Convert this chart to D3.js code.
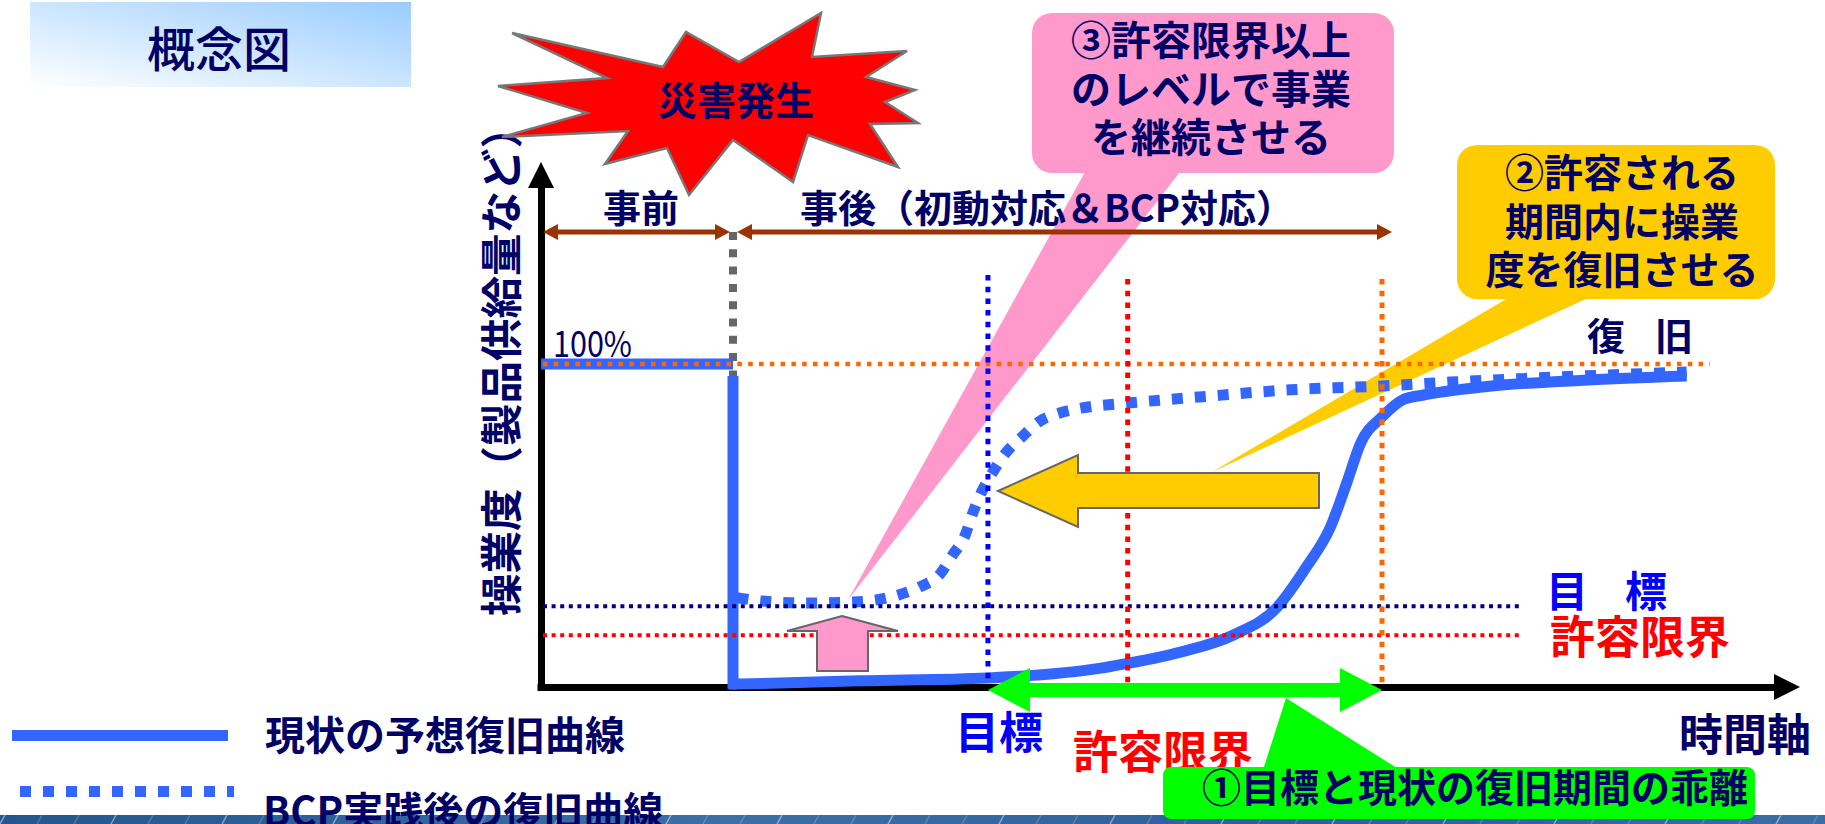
<!DOCTYPE html>
<html><head><meta charset="utf-8">
<script src="https://cdn.jsdelivr.net/npm/d3@7"></script>
<style>
body{margin:0;background:#fff;}
svg{display:block;}
text{font-family:"Noto Sans CJK JP","Noto Sans",sans-serif;}
</style></head><body>
<svg id="c" width="1825" height="824"></svg>
<script>
// ---------------- data ----------------
const timeDomain = [0, 100];          // arbitrary time units along the time axis
const levelDomain = [0, 100];         // operation level in %
const eventNames = ["災害発生", "目標", "許容限界", "復旧"];
const eventTimes = [15.25, 35.5, 46.6, 66.8];
const levelNames = ["100%", "目標", "許容限界"];
const levelValues = [100, 25, 16];
const preTimes = [0, 15.25];
const preValues = [100, 100];
const dropValues = [96.3, 1.0];
const currentTimes  = [15.8, 25.3, 35.5, 44.6, 46.6, 50.8, 55.0, 58.5, 60.8, 62.7, 64.0, 65.1, 66.8, 68.5, 70.1, 74.8, 82.8, 91.0];
const currentValues = [0.9, 1.9, 2.8, 5.9, 7.3, 10.8, 16.1, 24.8, 37.2, 49.5, 63.2, 75.5, 83.6, 89.0, 90.4, 92.9, 95.0, 96.3];
const bcpTimes  = [15.6, 17.6, 21.1, 24.8, 28.4, 30.1, 31.7, 32.7, 33.7, 34.3, 35.0, 35.9, 36.9, 38.2, 39.5, 41.2, 43.0, 46.6, 52.3, 59.5, 66.8, 72.2, 80.9, 91.0];
const bcpValues = [27.6, 26.6, 26.0, 26.3, 28.5, 31.0, 35.0, 40.9, 47.1, 53.9, 60.4, 66.6, 72.4, 77.4, 82.0, 84.8, 86.4, 87.9, 89.8, 92.0, 93.2, 94.4, 96.0, 97.5];
const seriesNames = ["現状の予想復旧曲線", "BCP実践後の復旧曲線"];

// ---------------- styles ----------------
const NAVY = "#000066", CURVE = "#3366FF", ORANGE = "#FF6600", RED = "#FF0000",
      BLUE = "#0000FF", LNAVY = "#000080", BROWN = "#993300", PINK = "#FF99CC",
      YELLOW = "#FFCC00", GREEN = "#00FF00", GRAY = "#666666";

const svg = d3.select("#c");
const x = d3.scaleLinear().domain(timeDomain).range([541, 1800]);
const y = d3.scaleLinear().domain(levelDomain).range([687, 364]);

const defs = svg.append("defs");
const tg = defs.append("linearGradient").attr("id", "tg").attr("x1", 0).attr("y1", 1).attr("x2", 1).attr("y2", 0);
tg.append("stop").attr("offset", 0).attr("stop-color", "#ffffff");
tg.append("stop").attr("offset", 1).attr("stop-color", "#99ccff");
const bg = defs.append("linearGradient").attr("id", "bg").attr("x1", 0).attr("y1", 0).attr("x2", 1).attr("y2", 0);
[["0", "#23558f"], ["0.4", "#3c6fa8"], ["0.7", "#2d5f9b"], ["1", "#3a6ca6"]].forEach(s =>
  bg.append("stop").attr("offset", s[0]).attr("stop-color", s[1]));

// title box
svg.append("rect").attr("x", 30).attr("y", 2).attr("width", 381).attr("height", 85).attr("fill", "url(#tg)");
svg.append("text").attr("x", 219).attr("y", 67).attr("text-anchor", "middle")
  .attr("font-size", 48).attr("font-weight", 500).attr("fill", NAVY).text("概念図");

// bottom banner
svg.append("rect").attr("x", 0).attr("y", 815).attr("width", 1825).attr("height", 9).attr("fill", "url(#bg)");
d3.range(0, 1825, 37).forEach((bx, i) => {
  svg.append("line").attr("x1", bx).attr("y1", 824).attr("x2", bx + 5).attr("y2", 815)
    .attr("stroke", "#ffffff").attr("stroke-opacity", i % 3 === 0 ? 0.45 : 0.2).attr("stroke-width", 1.5);
});

// callout wedges (behind lines)
const poly = pts => "M" + pts.map(p => p.join(",")).join("L") + "Z";
svg.append("path").attr("d", poly([[848, 600], [1085, 172], [1180, 172]])).attr("fill", PINK);
svg.append("path").attr("d", poly([[1212, 472], [1508, 298], [1588, 298]])).attr("fill", YELLOW);

// axes (d3 axes, no ticks) + arrow heads
const xAxisScale = x.copy().range([537, 1776]);
const yAxisScale = y.copy().range([690, 185]);
const gx = svg.append("g").attr("transform", `translate(0,${y(0)})`)
  .call(d3.axisBottom(xAxisScale).tickValues([]).tickSizeOuter(0));
const gy = svg.append("g").attr("transform", `translate(${x(0)},0)`)
  .call(d3.axisLeft(yAxisScale).tickValues([]).tickSizeOuter(0));
[gx, gy].forEach(g => g.select(".domain").attr("stroke", "#000").attr("stroke-width", 7));
svg.append("path").attr("d", poly([[1800, y(0)], [1774, y(0) - 13], [1774, y(0) + 13]])).attr("fill", "#000");
svg.append("path").attr("d", poly([[x(0), 162], [x(0) - 13, 188], [x(0) + 13, 188]])).attr("fill", "#000");

// curves
const line = d3.line().x(d => x(d[0])).y(d => y(d[1]));
const smooth = d3.line().curve(d3.curveMonotoneX).x(d => x(d[0])).y(d => y(d[1]));

svg.append("path").attr("d", smooth(d3.zip(bcpTimes, bcpValues)))
  .attr("fill", "none").attr("stroke", CURVE).attr("stroke-width", 11).attr("stroke-dasharray", "11,12");

// gray disaster marker (under the solid drop)
svg.append("line").attr("x1", x(eventTimes[0])).attr("x2", x(eventTimes[0])).attr("y1", 232).attr("y2", 697)
  .attr("stroke", GRAY).attr("stroke-width", 8).attr("stroke-dasharray", "8,9.3");

svg.append("path").attr("d", line(d3.zip(preTimes, preValues)))
  .attr("fill", "none").attr("stroke", CURVE).attr("stroke-width", 11);
const dropPts = [[eventTimes[0], dropValues[0]], [eventTimes[0], dropValues[1]]];
svg.append("path").attr("d", line(dropPts) + smooth(d3.zip(currentTimes, currentValues)).replace(/^M/, "L"))
  .attr("fill", "none").attr("stroke", CURVE).attr("stroke-width", 11).attr("stroke-linejoin", "miter");

// horizontal level reference lines
const hl = [
  {v: levelValues[0], x2: 1710, c: ORANGE, w: 4.5, d: "4.5,6.3"},
  {v: levelValues[1], x2: 1520, c: LNAVY, w: 4, d: "4,4.6"},
  {v: levelValues[2], x2: 1522, c: RED, w: 4, d: "4,4.6"}
];
hl.forEach(h => svg.append("line").attr("x1", 543).attr("x2", h.x2).attr("y1", y(h.v)).attr("y2", y(h.v))
  .attr("stroke", h.c).attr("stroke-width", h.w).attr("stroke-dasharray", h.d));

// vertical time markers
const vl = [
  {t: eventTimes[1], y1: 275, y2: 683, c: BLUE},
  {t: eventTimes[2], y1: 279, y2: 684, c: RED},
  {t: eventTimes[3], y1: 279, y2: 688, c: ORANGE}
];
vl.forEach(v => svg.append("line").attr("x1", x(v.t)).attr("x2", x(v.t)).attr("y1", v.y1).attr("y2", v.y2)
  .attr("stroke", v.c).attr("stroke-width", 5).attr("stroke-dasharray", "5.5,6.2"));

// brown before/after arrows
function hArrow(x1, x2, yy, color, lw, hl, hw) {
  svg.append("line").attr("x1", x1 + hl - 1).attr("x2", x2 - hl + 1).attr("y1", yy).attr("y2", yy)
    .attr("stroke", color).attr("stroke-width", lw);
  svg.append("path").attr("d", poly([[x1, yy], [x1 + hl, yy - hw], [x1 + hl, yy + hw]])).attr("fill", color);
  svg.append("path").attr("d", poly([[x2, yy], [x2 - hl, yy - hw], [x2 - hl, yy + hw]])).attr("fill", color);
}
hArrow(543, x(eventTimes[0]) - 3, 232, BROWN, 5, 15, 8);
hArrow(x(eventTimes[0]) + 4, 1392, 232, BROWN, 5, 15, 8);

// green double arrow (gap between target and current recovery)
{
  const x1 = x(eventTimes[1]), x2 = x(eventTimes[3]), yc = 690, hlen = 42, hh = 22, sh = 7;
  svg.append("path").attr("d", poly([[x1, yc], [x1 + hlen, yc - hh], [x1 + hlen, yc - sh], [x2 - hlen, yc - sh],
    [x2 - hlen, yc - hh], [x2, yc], [x2 - hlen, yc + hh], [x2 - hlen, yc + sh], [x1 + hlen, yc + sh], [x1 + hlen, yc + hh]]))
    .attr("fill", GREEN);
}

// block arrows
svg.append("path").attr("d", poly([[842, 616], [898, 631], [868, 631], [868, 671], [817, 671], [817, 631], [787, 631]]))
  .attr("fill", PINK).attr("stroke", GRAY).attr("stroke-width", 2);
svg.append("path").attr("d", poly([[998, 491], [1078, 455], [1078, 473], [1319, 473], [1319, 508], [1078, 508], [1078, 527]]))
  .attr("fill", YELLOW).attr("stroke", GRAY).attr("stroke-width", 2);

// text helper
function txt(s, xx, yy, fs, color, anchor, weight) {
  return svg.append("text").attr("x", xx).attr("y", yy).attr("font-size", fs).attr("fill", color)
    .attr("text-anchor", anchor || "middle").attr("font-weight", weight || 700).text(s);
}

// labels on chart
txt("事前", 641, 222, 38, NAVY);
txt("事後（初動対応＆BCP対応）", 1047, 222, 38, NAVY);
svg.append("text").attr("x", 553).attr("y", 357).attr("font-size", 36).attr("fill", NAVY)
  .attr("font-family", "'Liberation Sans', Arial, sans-serif").attr("textLength", 79).attr("lengthAdjust", "spacingAndGlyphs")
  .text(levelNames[0]);
svg.append("text").attr("transform", "translate(517,361) rotate(-90)").attr("text-anchor", "middle")
  .attr("font-size", 42.5).attr("font-weight", 700).attr("fill", NAVY).text("操業度（製品供給量など）");

txt("復", 1606, 350, 38, NAVY); txt("旧", 1674, 350, 38, NAVY);
txt("目", 1567, 607, 42, BLUE); txt("標", 1646, 607, 42, BLUE);
txt(levelNames[2], 1640, 654, 45, RED);
txt(eventNames[1], 999, 749, 44, BLUE);
txt(eventNames[2], 1163, 769, 45, RED);
txt("時間軸", 1745, 751, 44, NAVY);

// legend
svg.append("line").attr("x1", 12).attr("x2", 228).attr("y1", 735.5).attr("y2", 735.5).attr("stroke", CURVE).attr("stroke-width", 11);
svg.append("line").attr("x1", 20).attr("x2", 234).attr("y1", 791.5).attr("y2", 791.5).attr("stroke", CURVE).attr("stroke-width", 11).attr("stroke-dasharray", "11,12");
txt(seriesNames[0], 265, 750, 40, NAVY, "start");
txt(seriesNames[1], 263, 826, 40, NAVY, "start");

// callout boxes
svg.append("rect").attr("x", 1032).attr("y", 13).attr("width", 362).attr("height", 160).attr("rx", 20).attr("fill", PINK);
["③許容限界以上", "のレベルで事業", "を継続させる"].forEach((s, i) => txt(s, 1211, 55 + i * 48.5, 40, NAVY));
svg.append("rect").attr("x", 1457).attr("y", 145).attr("width", 318).attr("height", 154).attr("rx", 20).attr("fill", YELLOW);
["②許容される", "期間内に操業", "度を復旧させる"].forEach((s, i) => txt(s, 1622, 187 + i * 48.5, 39, NAVY));
svg.append("path").attr("d", poly([[1286, 698], [1263, 770], [1400, 770]])).attr("fill", GREEN);
svg.append("rect").attr("x", 1163).attr("y", 767).attr("width", 592).attr("height", 52).attr("rx", 8).attr("fill", GREEN);
txt("①目標と現状の復旧期間の乖離", 1475, 802, 39, NAVY);

// disaster burst
const star = [[512, 33], [663, 67], [686, 32], [739, 62], [821, 13], [812, 57], [907, 51], [866, 77], [915, 90], [885, 102],
  [918, 123], [870, 124], [898, 167], [808, 135], [793, 182], [733, 140], [689, 195], [667, 148], [605, 164], [628, 131],
  [502, 137], [587, 113], [498, 86], [607, 78]];
svg.append("path").attr("d", poly(star)).attr("fill", "#FF0000").attr("stroke", "#777").attr("stroke-width", 2.5).attr("stroke-linejoin", "miter");
txt(eventNames[0], 736, 115, 39, NAVY);
</script>
</body></html>
